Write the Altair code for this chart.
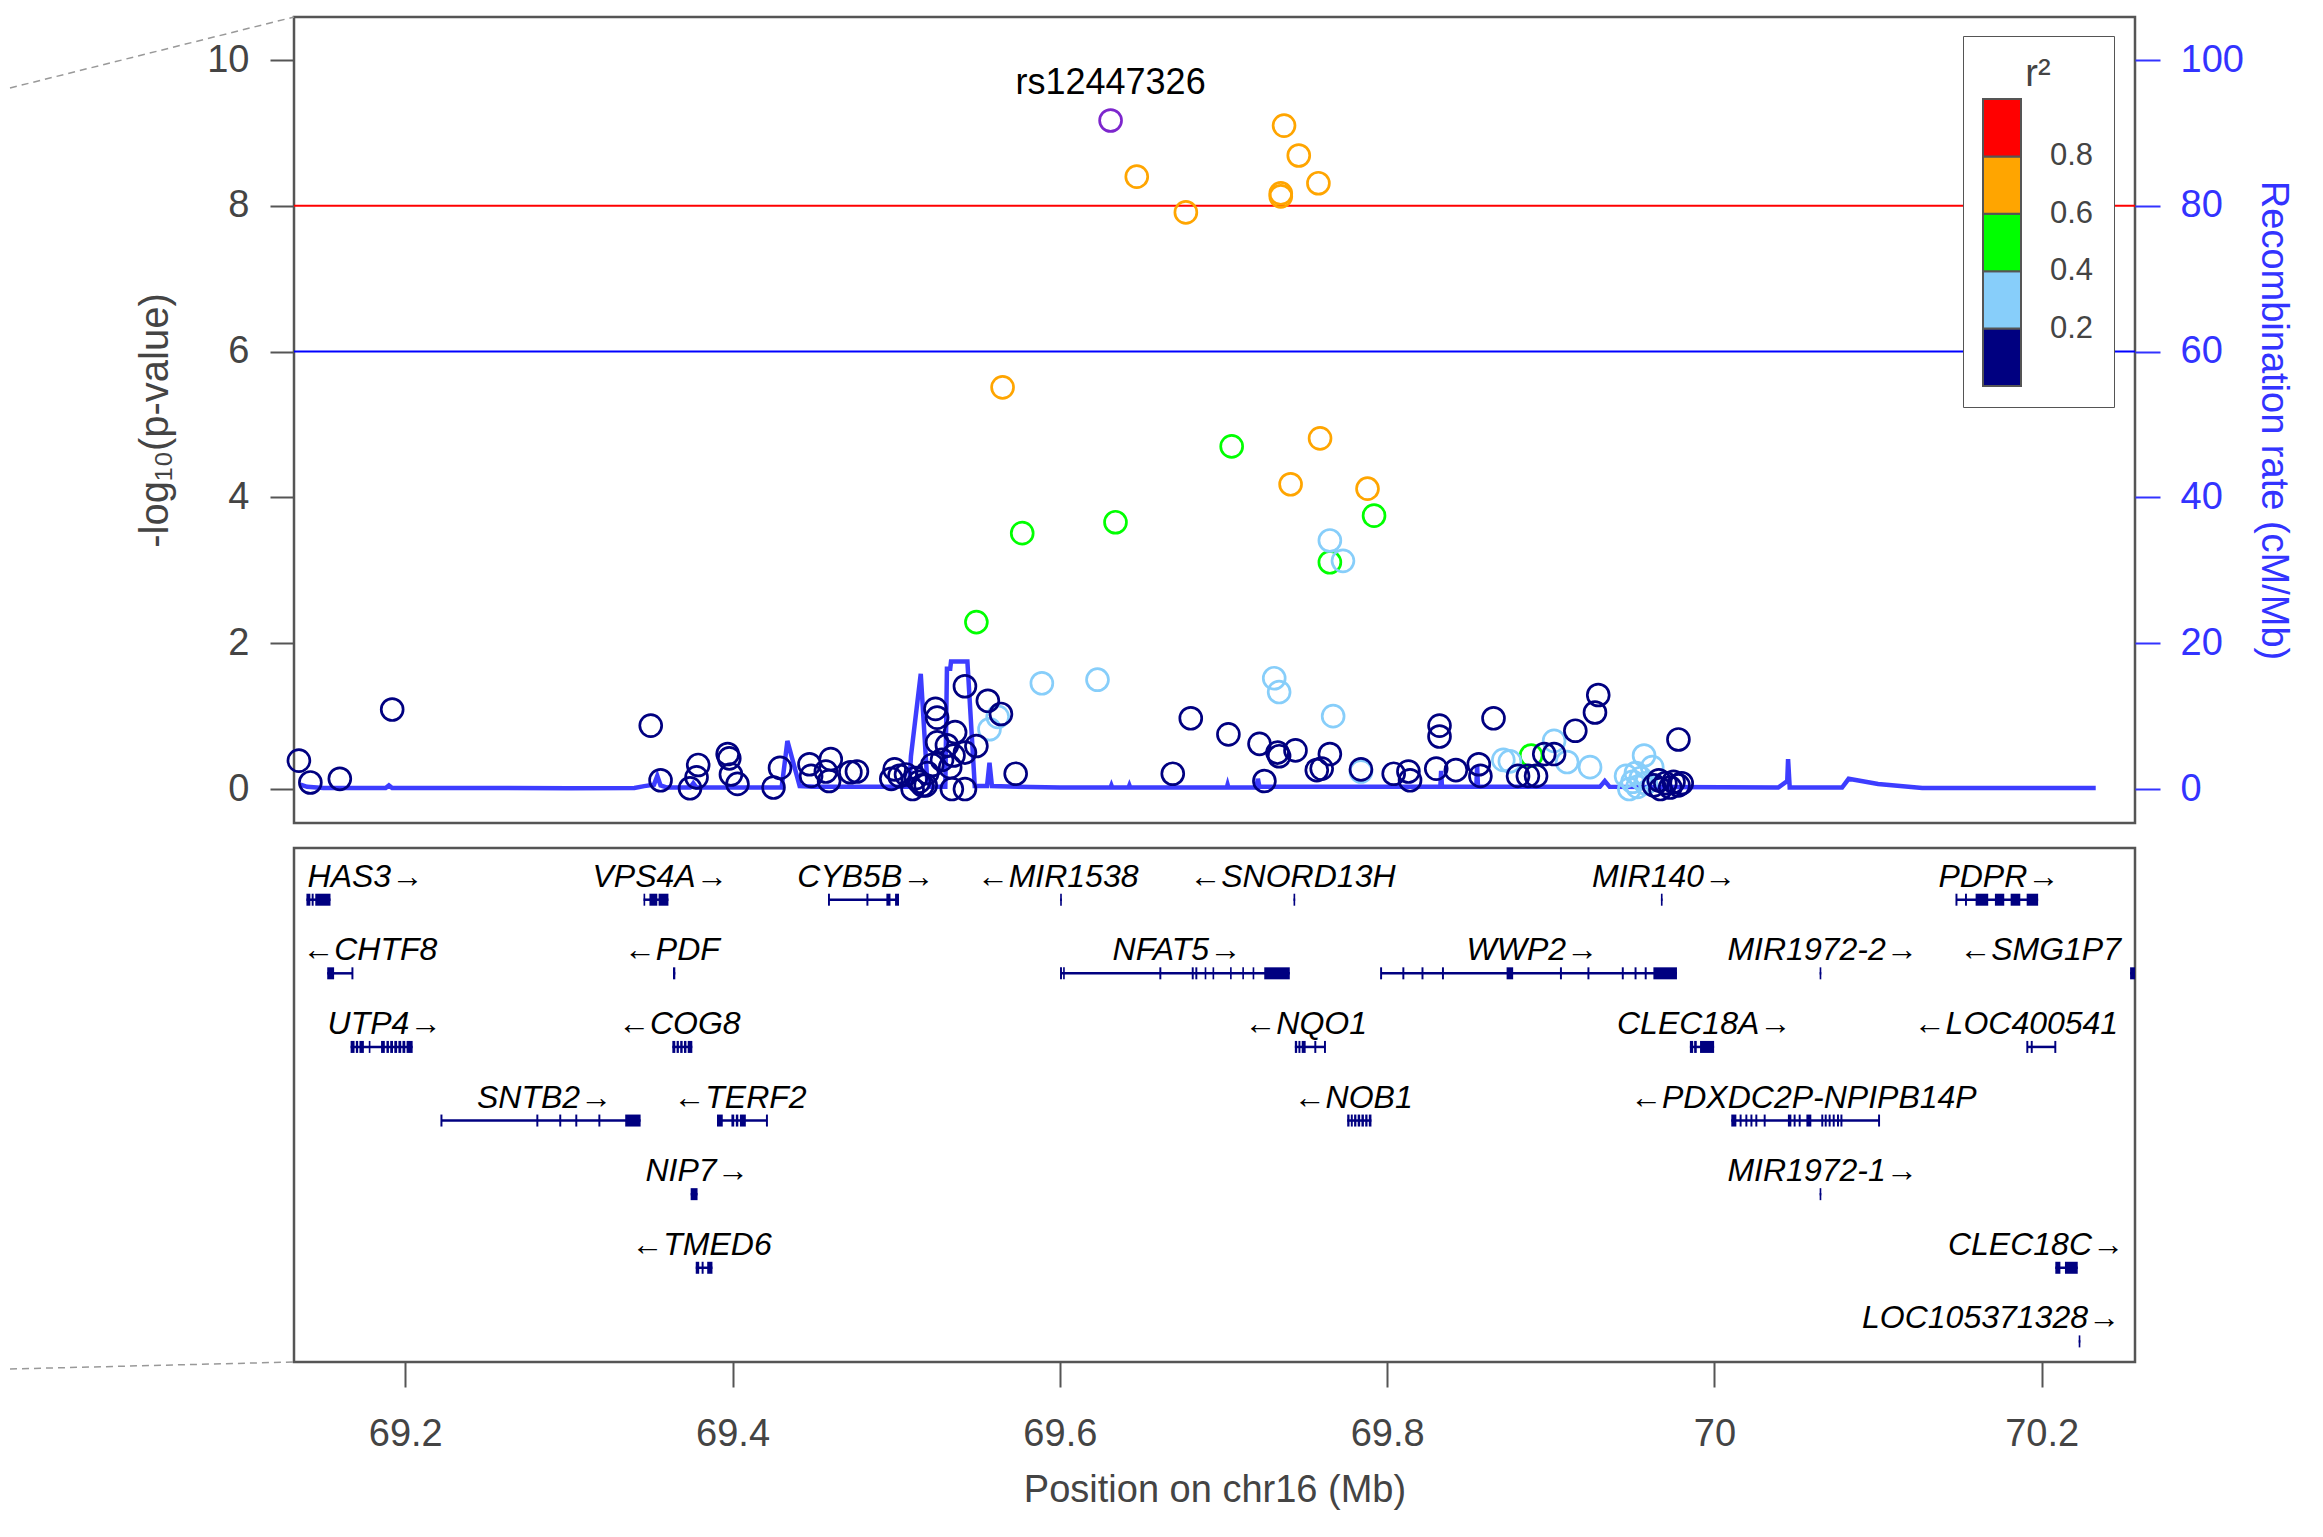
import altair as alt
import pandas as pd

FONT = "Liberation Sans"
NAVY, LBLUE, GREEN, ORANGE, RED, PURPLE = "#000080", "#87CEFA", "#00FF00", "#FFA500", "#FF0000", "#7D26CD"
GREY, FRAME, RBLUE = "#444444", "#555555", "#3333FF"

# ---------------- data ----------------
# SNPs: position (Mb), -log10(p), r2 class value
snp_pos = [
    # r2 0.6-0.8
    69.737, 69.746, 69.647, 69.758, 69.735, 69.735, 69.677, 69.565, 69.759, 69.741, 69.788,
    # r2 0.4-0.6
    69.705, 69.792, 69.634, 69.577, 69.765, 69.549, 69.888,
    # r2 0.2-0.4
    69.765, 69.773, 69.589, 69.623, 69.731, 69.734, 69.767, 69.562, 69.557, 69.784,
    69.871, 69.875, 69.902, 69.910, 69.924, 69.957, 69.962, 69.946, 69.950, 69.953,
    69.948, 69.955, 69.952, 69.958,
    # r2 < 0.2
    69.135, 69.142, 69.160, 69.192, 69.350, 69.356, 69.374, 69.378, 69.379, 69.397,
    69.398, 69.399, 69.403, 69.425, 69.429, 69.447, 69.448, 69.457, 69.460, 69.459,
    69.472, 69.476, 69.499, 69.502, 69.497, 69.510, 69.516, 69.514, 69.519, 69.522,
    69.524, 69.525, 69.525, 69.531, 69.536, 69.535, 69.542, 69.542, 69.534, 69.542,
    69.549, 69.556, 69.564, 69.573, 69.506, 69.512, 69.518, 69.528, 69.533,
    69.680, 69.669, 69.703, 69.722, 69.733, 69.734, 69.725, 69.744, 69.757, 69.760,
    69.765, 69.784, 69.804, 69.813, 69.814, 69.830, 69.832, 69.832, 69.842, 69.856,
    69.857, 69.865, 69.880, 69.886, 69.891, 69.896, 69.902, 69.915, 69.927, 69.929,
    69.978, 69.963, 69.967, 69.970, 69.973, 69.975, 69.978, 69.980, 69.966,
]
snp_logp = [
    9.10, 8.69, 8.40, 8.31, 8.17, 8.13, 7.91, 5.51, 4.81, 4.18, 4.12,
    4.70, 3.75, 3.66, 3.51, 3.11, 2.29, 0.46,
    3.41, 3.13, 1.45, 1.50, 1.52, 1.33, 1.00, 0.99, 0.82, 0.24,
    0.40, 0.38, 0.66, 0.37, 0.30, 0.46, 0.30, 0.18, 0.10, 0.03,
    0.00, 0.15, 0.22, 0.08,
    0.39, 0.09, 0.14, 1.09, 0.87, 0.12, 0.01, 0.16, 0.33, 0.48,
    0.42, 0.20, 0.07, 0.02, 0.29, 0.34, 0.18, 0.24, 0.41, 0.11,
    0.23, 0.24, 0.27, 0.18, 0.14, 0.00, 0.05, 0.10, 0.22, 0.33,
    1.10, 0.98, 0.64, 0.60, 0.78, 0.46, 0.50, 1.41, 0.00, 0.00,
    0.59, 1.21, 1.03, 0.21, 0.20, 0.15, 0.05, 0.40, 0.30,
    0.97, 0.21, 0.75, 0.62, 0.50, 0.45, 0.11, 0.53, 0.26, 0.28,
    0.48, 0.27, 0.21, 0.24, 0.12, 0.28, 0.87, 0.72, 0.26, 0.34,
    0.18, 0.97, 0.18, 0.18, 0.18, 0.48, 0.48, 0.80, 1.05, 1.29,
    0.68, 0.05, 0.00, 0.08, 0.02, 0.10, 0.05, 0.08, 0.12,
]
snp_r2 = [0.7] * 11 + [0.5] * 7 + [0.3] * 24 + [0.1] * (len(snp_pos) - 42)

lead_pos = [69.631]
lead_logp = [9.17]
lead_name = ["rs12447326"]

thr_values = [8, 6]
thr_colors = [RED, "#0000FF"]

R2_BREAKS = [0.2, 0.4, 0.6, 0.8]
R2_COLORS = [NAVY, LBLUE, GREEN, ORANGE, RED]

recomb_pos = [
    69.136, 69.140, 69.150, 69.188, 69.190, 69.192, 69.300, 69.340, 69.346, 69.352,
    69.354, 69.356, 69.360, 69.374, 69.376, 69.378, 69.430, 69.4335, 69.441, 69.450,
    69.480, 69.508, 69.509, 69.515, 69.519, 69.521, 69.530, 69.531, 69.533, 69.5335,
    69.5435, 69.548, 69.5555, 69.557, 69.5585, 69.600, 69.631, 69.6315, 69.632, 69.642,
    69.6425, 69.643, 69.702, 69.7025, 69.703, 69.720, 69.721, 69.722, 69.8325, 69.833,
    69.8335, 69.8545, 69.855, 69.8555, 69.930, 69.933, 69.936, 70.039, 70.0445, 70.045,
    70.046, 70.078, 70.082, 70.100, 70.127, 70.233,
]
recomb_rate = [
    0.6, 0.3, 0.15, 0.15, 0.5, 0.15, 0.12, 0.15, 0.4, 0.6,
    1.8, 0.5, 0.2, 0.2, 0.8, 0.2, 0.2, 6.6, 0.4, 0.3,
    0.3, 0.3, 4.5, 15.8, 1.0, 0.3, 0.3, 16.5, 16.5, 17.5,
    17.5, 0.4, 0.4, 3.6, 0.4, 0.2, 0.2, 0.5, 0.2, 0.2,
    0.5, 0.2, 0.2, 0.6, 0.2, 0.2, 1.4, 0.3, 0.3, 2.5,
    0.3, 0.3, 3.2, 0.3, 0.3, 1.1, 0.3, 0.2, 1.1, 4.1,
    0.2, 0.2, 1.4, 0.7, 0.15, 0.15,
]

gene_name = ["HAS3", "VPS4A", "CYB5B", "MIR1538", "SNORD13H", "MIR140", "PDPR",
             "CHTF8", "PDF", "NFAT5", "WWP2", "MIR1972-2", "SMG1P7",
             "UTP4", "COG8", "NQO1", "CLEC18A", "LOC400541",
             "SNTB2", "TERF2", "NOB1", "PDXDC2P-NPIPB14P",
             "NIP7", "MIR1972-1",
             "TMED6", "CLEC18C",
             "LOC105371328"]
gene_start = [69.1396, 69.3456, 69.4589, 69.6002, 69.7428, 69.9673, 70.1479,
              69.1523, 69.3636, 69.6007, 69.7963, 70.0643, 70.2540,
              69.1666, 69.3632, 69.7436, 69.9850, 70.1912,
              69.2221, 69.3905, 69.7756, 70.0103,
              69.3744, 70.0643,
              69.3775, 70.2083,
              70.2226]
gene_end = [69.1543, 69.3608, 69.5017, 69.6012, 69.7438, 69.9683, 70.1978,
            69.1677, 69.3650, 69.7405, 69.9771, 70.0653, 70.2570,
            69.2045, 69.3754, 69.7620, 69.9998, 70.2083,
            69.3438, 69.4210, 69.7904, 70.1006,
            69.3786, 70.0653,
            69.3877, 70.2220,
            70.2236]
gene_row = [1, 1, 1, 1, 1, 1, 1,
            2, 2, 2, 2, 2, 2,
            3, 3, 3, 3, 3,
            4, 4, 4, 4,
            5, 5,
            6, 6,
            7]
gene_strand = ["+", "+", "+", "-", "-", "+", "+",
               "-", "-", "+", "+", "+", "-",
               "+", "-", "-", "+", "-",
               "+", "-", "-", "-",
               "+", "+",
               "-", "+",
               "+"]
gene_label_pos = [69.1756, 69.3557, 69.4814, 69.5986, 69.7421, 69.9692, 70.1738,
                  69.1783, 69.3629, 69.6715, 69.8887, 70.0661, 70.1990,
                  69.1873, 69.3674, 69.7502, 69.9937, 70.1842,
                  69.2851, 69.4045, 69.7792, 70.0543,
                  69.3783, 70.0661,
                  69.3810, 70.1965,
                  70.1690]

exon_gene, exon_start, exon_end = [], [], []
_exons = {
    "HAS3": [(69.1396, 69.1420), (69.1428, 69.1440), (69.1450, 69.1543)],
    "VPS4A": [(69.3456, 69.3466), (69.3492, 69.3540), (69.3548, 69.3608)],
    "CYB5B": [(69.4583, 69.4595), (69.4818, 69.4830), (69.4940, 69.4965), (69.4993, 69.5017)],
    "MIR1538": [(69.6002, 69.6012)],
    "SNORD13H": [(69.7428, 69.7438)],
    "MIR140": [(69.9673, 69.9683)],
    "PDPR": [(70.1473, 70.1485), (70.1531, 70.1543), (70.1596, 70.1673), (70.1714, 70.1771),
             (70.1810, 70.1869), (70.1908, 70.1978)],
    "CHTF8": [(69.1523, 69.1565), (69.1671, 69.1683)],
    "PDF": [(69.3636, 69.3650)],
    "NFAT5": [(69.6001, 69.6013), (69.6020, 69.6030), (69.6608, 69.6620), (69.6806, 69.6818),
              (69.6828, 69.6840), (69.6885, 69.6895), (69.6933, 69.6943), (69.7040, 69.7050),
              (69.7115, 69.7125), (69.7178, 69.7188), (69.7249, 69.7405)],
    "WWP2": [(69.7957, 69.7969), (69.8093, 69.8105), (69.8210, 69.8222), (69.8335, 69.8347),
             (69.8730, 69.8770), (69.9056, 69.9068), (69.9224, 69.9236), (69.9434, 69.9446),
             (69.9512, 69.9524), (69.9574, 69.9586), (69.9627, 69.9771)],
    "MIR1972-2": [(70.0643, 70.0653)],
    "SMG1P7": [(70.2540, 70.2570)],
    "UTP4": [(69.1666, 69.1690), (69.1698, 69.1712), (69.1720, 69.1747), (69.1777, 69.1787),
             (69.1852, 69.1875), (69.1885, 69.1900), (69.1908, 69.1925), (69.1933, 69.1950),
             (69.1958, 69.1975), (69.1983, 69.2000), (69.2008, 69.2045)],
    "COG8": [(69.3632, 69.3650), (69.3658, 69.3672), (69.3680, 69.3695), (69.3703, 69.3718),
             (69.3726, 69.3754)],
    "NQO1": [(69.7436, 69.7450), (69.7458, 69.7470), (69.7478, 69.7502), (69.7555, 69.7567),
             (69.7614, 69.7626)],
    "CLEC18A": [(69.9850, 69.9870), (69.9876, 69.9892), (69.9912, 69.9998)],
    "LOC400541": [(70.1906, 70.1918), (70.1933, 70.1945), (70.2077, 70.2089)],
    "SNTB2": [(69.2215, 69.2227), (69.2801, 69.2813), (69.2941, 69.2953), (69.3039, 69.3051),
              (69.3180, 69.3192), (69.3344, 69.3438)],
    "TERF2": [(69.3905, 69.3940), (69.3993, 69.4010), (69.4020, 69.4035), (69.4045, 69.4081),
              (69.4204, 69.4216)],
    "NOB1": [(69.7756, 69.7770), (69.7778, 69.7790), (69.7798, 69.7812), (69.7820, 69.7835),
             (69.7843, 69.7858), (69.7866, 69.7880), (69.7888, 69.7904)],
    "PDXDC2P-NPIPB14P": [(70.0103, 70.0134), (70.0154, 70.0166), (70.0189, 70.0201),
                         (70.0220, 70.0232), (70.0250, 70.0262), (70.0301, 70.0313),
                         (70.0449, 70.0470), (70.0484, 70.0496), (70.0515, 70.0527),
                         (70.0562, 70.0592), (70.0653, 70.0665), (70.0674, 70.0686),
                         (70.0698, 70.0710), (70.0723, 70.0735), (70.0749, 70.0761),
                         (70.0770, 70.0782), (70.1000, 70.1012)],
    "NIP7": [(69.3744, 69.3786)],
    "MIR1972-1": [(70.0643, 70.0653)],
    "TMED6": [(69.3775, 69.3796), (69.3811, 69.3823), (69.3845, 69.3877)],
    "CLEC18C": [(70.2083, 70.2114), (70.2142, 70.2220)],
    "LOC105371328": [(70.2226, 70.2236)],
}
for g, ivs in _exons.items():
    for s, e in ivs:
        exon_gene.append(g)
        exon_start.append(s)
        exon_end.append(e)

X_DOMAIN = [69.132, 70.257]
P_DOMAIN = [-0.466, 10.59]
R_DOMAIN = [-4.66, 105.9]
ROW_DOMAIN = [0.2976, 7.28]
X_TICKS = [69.2, 69.4, 69.6, 69.8, 70.0, 70.2]

W, H_TOP, H_GENE = 1841, 806, 514

# ---------------- tables ----------------
df_snp = pd.DataFrame({"pos": snp_pos, "logp": snp_logp, "r2": snp_r2})
df_lead = pd.DataFrame({"pos": lead_pos, "logp": lead_logp, "name": lead_name})
df_thr = pd.DataFrame({"v": thr_values, "c": thr_colors})
df_rec = pd.DataFrame({"pos": recomb_pos, "rate": recomb_rate})
df_gene = pd.DataFrame({"name": gene_name, "start": gene_start, "end": gene_end,
                        "row": gene_row, "strand": gene_strand, "lab": gene_label_pos})
df_gene["label"] = [n + "→" if s == "+" else "←" + n for n, s in zip(gene_name, gene_strand)]
row_of = dict(zip(gene_name, gene_row))
df_exon = pd.DataFrame({"gene": exon_gene, "s": exon_start, "e": exon_end})
df_exon["row"] = df_exon["gene"].map(row_of)
df_one = pd.DataFrame({"k": [0]})

# ---------------- scales / axes ----------------
xs = alt.Scale(domain=X_DOMAIN, nice=False, zero=False)
ps = alt.Scale(domain=P_DOMAIN, nice=False, zero=False)
rs = alt.Scale(domain=R_DOMAIN, nice=False, zero=False)
gs = alt.Scale(domain=ROW_DOMAIN, nice=False, zero=False, reverse=True)

left_axis = alt.Axis(values=[0, 2, 4, 6, 8, 10], format="d", tickSize=24, tickWidth=2,
                     tickColor=FRAME, labelFontSize=38, labelColor=GREY, labelFont=FONT,
                     labelPadding=21, domain=False, grid=False,
                     title="-log₁₀(p-value)", titleFont=FONT, titleFontSize=40,
                     titleFontWeight="normal", titleColor=GREY, titlePadding=31)
right_axis = alt.Axis(orient="right", values=[0, 20, 40, 60, 80, 100], format="d",
                      tickSize=25, tickWidth=2, tickColor=RBLUE, labelFontSize=38,
                      labelColor=RBLUE, labelFont=FONT, labelPadding=20, domain=False,
                      grid=False, title="Recombination rate (cM/Mb)", titleFont=FONT,
                      titleFontSize=38, titleFontWeight="normal", titleColor=RBLUE,
                      titlePadding=10)
x_axis = alt.Axis(values=X_TICKS, format="~g", tickSize=25, tickWidth=2, tickColor=FRAME,
                  labelFontSize=38, labelColor=GREY, labelFont=FONT, labelPadding=28,
                  domain=False, grid=False, title="Position on chr16 (Mb)", titleFont=FONT,
                  titleFontSize=38, titleFontWeight="normal", titleColor=GREY, titlePadding=18)

r2_legend = alt.Legend(title="r²", orient="none", legendX=1669, legendY=19, type="gradient",
                       direction="vertical", gradientLength=287, gradientThickness=38,
                       gradientStrokeColor=FRAME, gradientStrokeWidth=2,
                       labelFontSize=31, labelColor=GREY, labelFont=FONT, labelOffset=29,
                       format=".1f", titleFontSize=38, titleFont=FONT,
                       titleFontWeight="normal", titleColor=GREY, titleAnchor="middle",
                       titlePadding=5, padding=20, strokeColor=FRAME, fillColor="white")

# ---------------- top panel ----------------
rec = alt.Chart(df_rec).mark_line(color=RBLUE, strokeWidth=4.5, opacity=0.95).encode(
    x=alt.X("pos:Q", scale=xs, axis=None),
    y=alt.Y("rate:Q", scale=rs, axis=right_axis),
)
thr = alt.Chart(df_thr).mark_rule(strokeWidth=2).encode(
    y=alt.Y("v:Q", scale=ps, axis=left_axis),
    stroke=alt.Stroke("c:N", scale=None, legend=None),
)
pts = alt.Chart(df_snp).mark_point(shape="circle", filled=False, size=480, strokeWidth=2.7,
                                   opacity=1).encode(
    x=alt.X("pos:Q", scale=xs, axis=None),
    y=alt.Y("logp:Q", scale=ps, axis=left_axis),
    color=alt.Color("r2:Q", scale=alt.Scale(type="threshold", domain=R2_BREAKS, range=R2_COLORS),
                    legend=r2_legend),
)
lead = alt.Chart(df_lead).mark_point(shape="circle", filled=False, size=480, strokeWidth=2.7,
                                     color=PURPLE, opacity=1).encode(
    x=alt.X("pos:Q", scale=xs, axis=None),
    y=alt.Y("logp:Q", scale=ps, axis=left_axis),
)
lead_txt = alt.Chart(df_lead).mark_text(font=FONT, fontSize=36, color="black", dy=-38,
                                        baseline="middle").encode(
    x=alt.X("pos:Q", scale=xs, axis=None),
    y=alt.Y("logp:Q", scale=ps, axis=left_axis),
    text="name:N",
)
zoom_top = alt.Chart(df_one).mark_rule(color="#999999", strokeWidth=1.5, strokeDash=[7, 5]).encode(
    x=alt.value(-284), x2=alt.value(0), y=alt.value(71), y2=alt.value(0)
)
inner = alt.layer(thr, pts, lead, lead_txt)
top = alt.layer(rec, inner, zoom_top).resolve_scale(y="independent").properties(
    width=W, height=H_TOP)

# ---------------- gene panel ----------------
introns = alt.Chart(df_gene).mark_rule(color=NAVY, strokeWidth=2.5).encode(
    x=alt.X("start:Q", scale=xs, axis=x_axis), x2="end:Q",
    y=alt.Y("row:Q", scale=gs, axis=None),
)
exons = alt.Chart(df_exon).mark_rule(color=NAVY, strokeWidth=12, strokeCap="butt").encode(
    x=alt.X("s:Q", scale=xs, axis=x_axis), x2="e:Q",
    y=alt.Y("row:Q", scale=gs, axis=None),
)
labels = alt.Chart(df_gene).mark_text(font=FONT, fontStyle="italic", fontSize=32, color="black",
                                      baseline="alphabetic", dy=-13).encode(
    x=alt.X("lab:Q", scale=xs, axis=x_axis),
    y=alt.Y("row:Q", scale=gs, axis=None),
    text="label:N",
)
zoom_bot = alt.Chart(df_one).mark_rule(color="#999999", strokeWidth=1.5, strokeDash=[7, 5]).encode(
    x=alt.value(-284), x2=alt.value(0), y=alt.value(521), y2=alt.value(514)
)
bottom = alt.layer(introns, exons, labels, zoom_bot).properties(width=W, height=H_GENE)

chart = alt.vconcat(top, bottom, spacing=25, bounds="flush").resolve_legend(
    color="independent"
).properties(
    padding={"left": 0, "top": 7, "right": 5, "bottom": 5}
).configure(font=FONT).configure_view(stroke=FRAME, strokeWidth=2.5)

chart.save("out.html", embed_options={"renderer": "svg", "actions": False})
